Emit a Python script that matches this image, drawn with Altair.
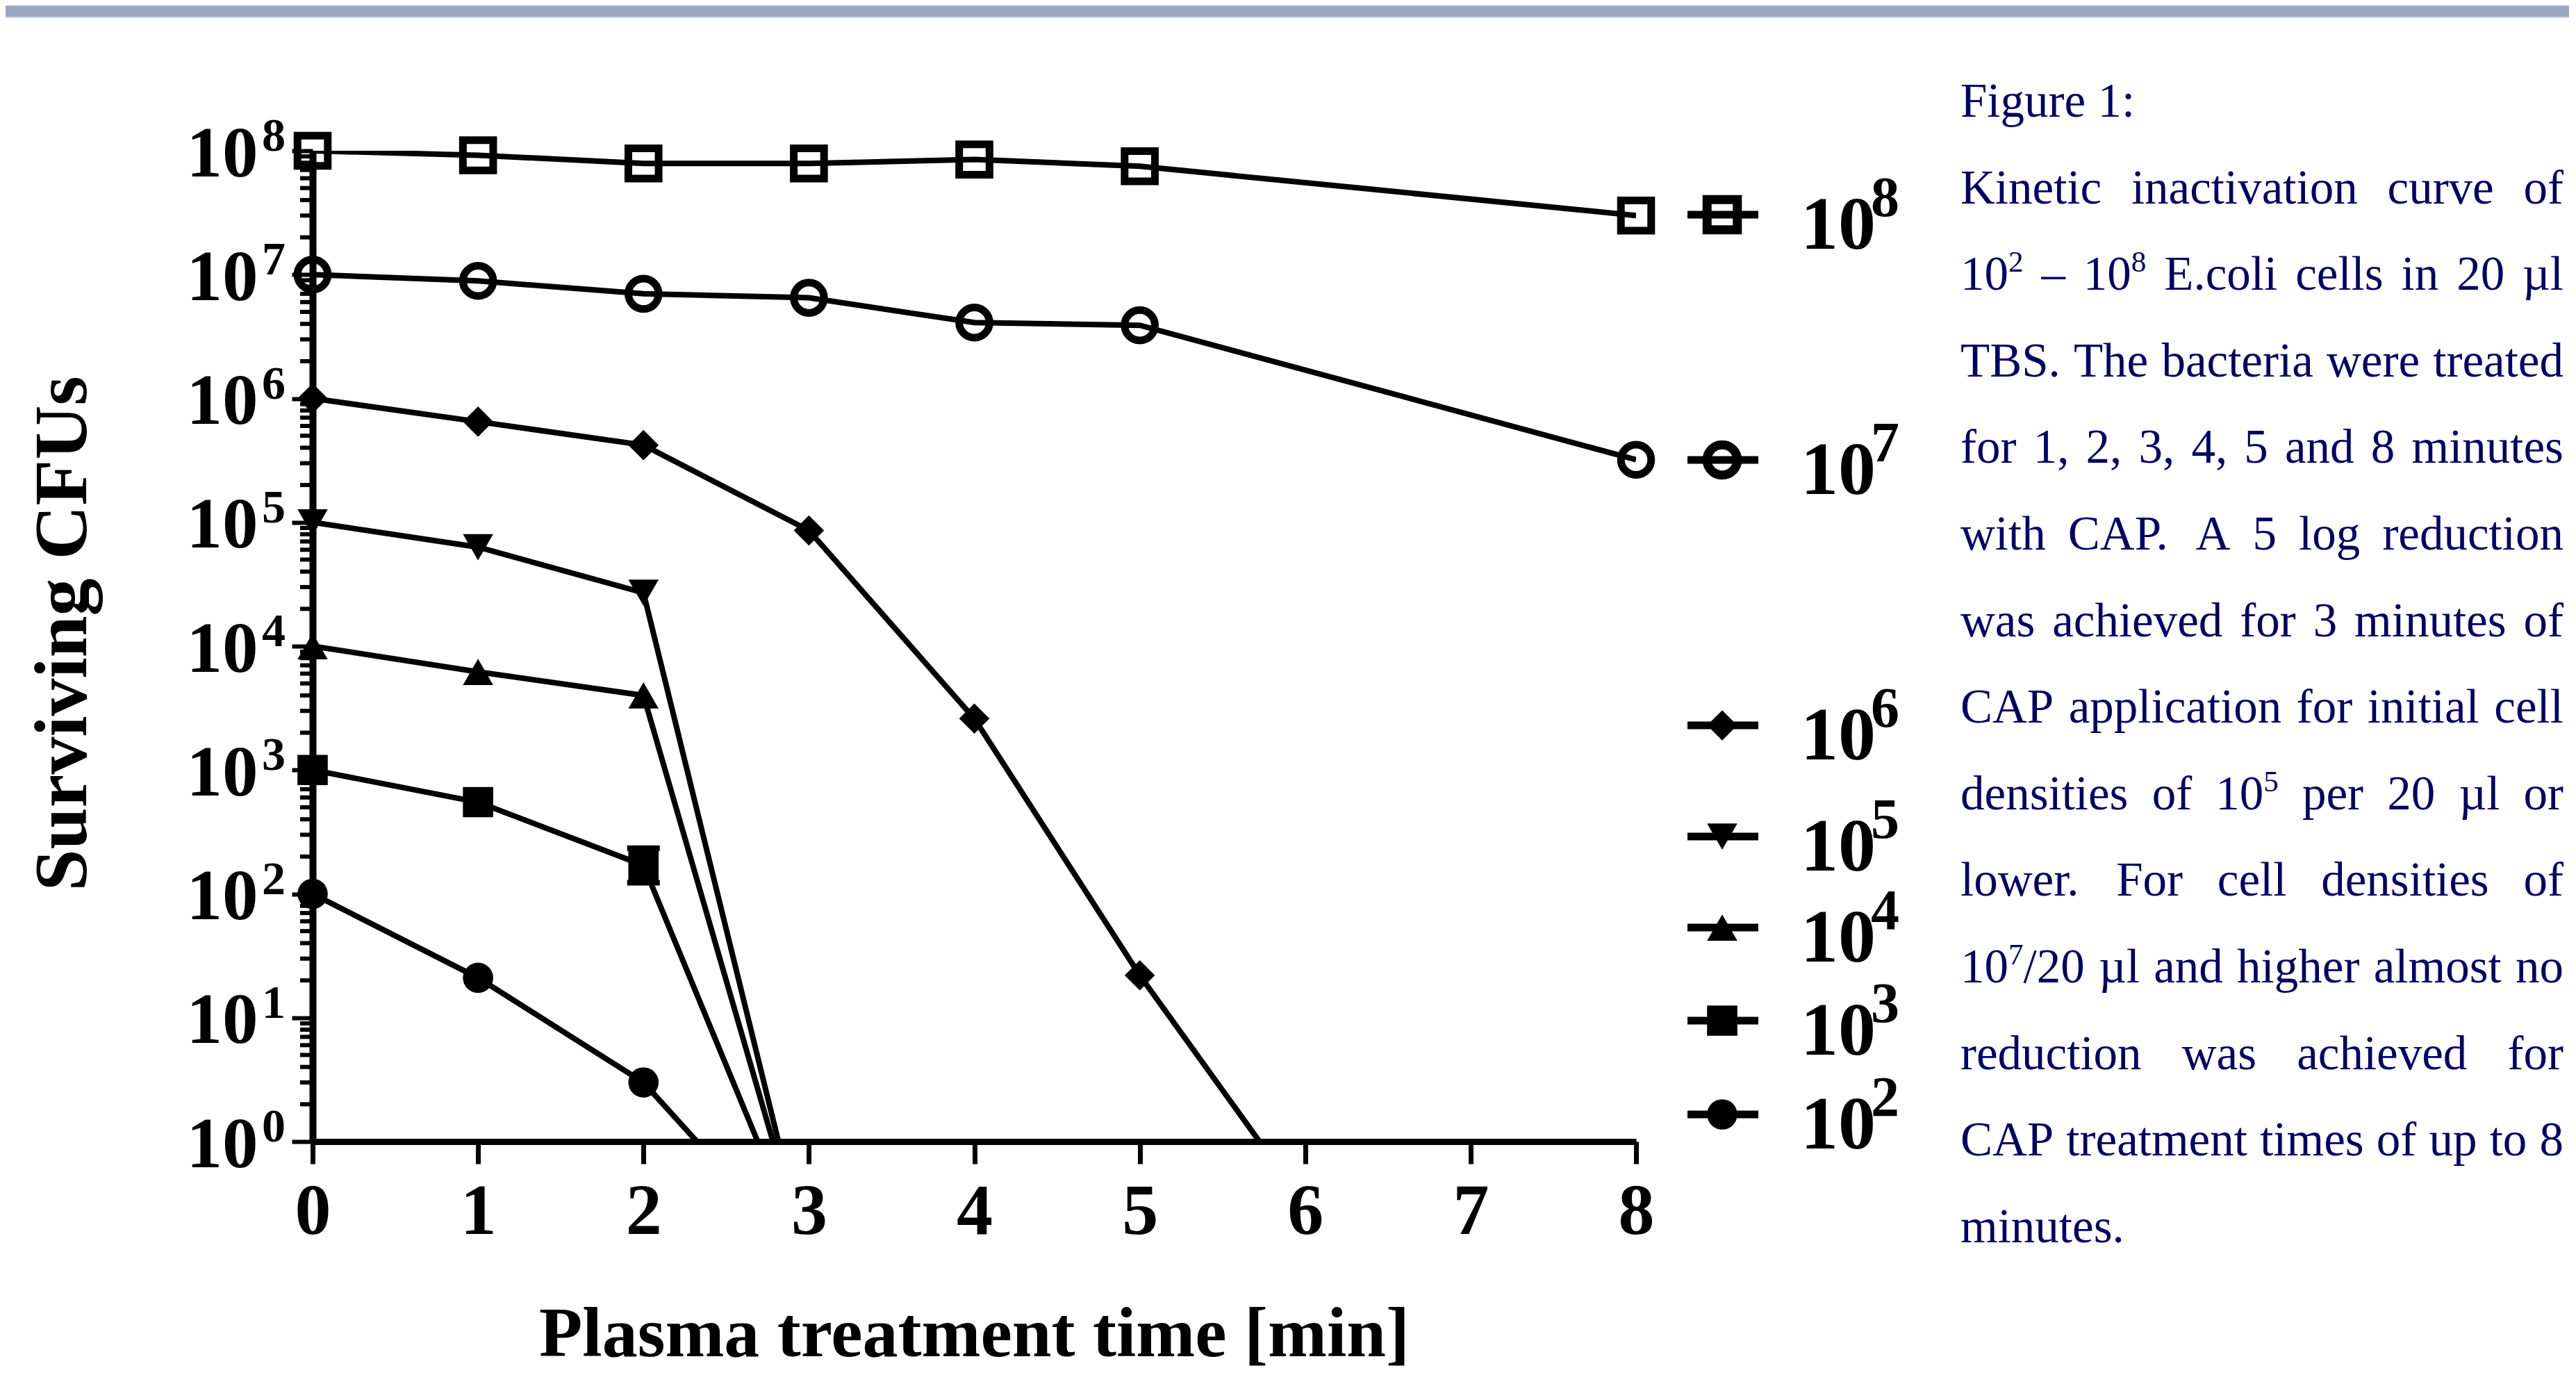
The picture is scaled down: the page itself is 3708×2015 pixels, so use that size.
import altair as alt
import pandas as pd

# ---------------- data ----------------
times = [0, 1, 2, 3, 4, 5, 8]
series_names = ["1e8", "1e7", "1e6", "1e5", "1e4", "1e3", "1e2"]
series_exp = ["8", "7", "6", "5", "4", "3", "2"]

# surviving CFUs per series (values below 10^0 are "zero" counts that Prism
# draws below the axis; the lines are clipped at the axis)
cfu_1e8 = [1.0e8, 9.2e7, 7.9e7, 7.9e7, 8.5e7, 7.5e7, 3.0e7]
cfu_1e7 = [1.0e7, 8.9e6, 7.0e6, 6.5e6, 4.1e6, 3.9e6, 3.2e5]
cfu_1e6 = [1.0e6, 6.5e5, 4.2e5, 8.6e4, 2.6e3, 22.0, 6e-5]
cfu_1e5 = [1.0e5, 6.3e4, 2.7e4, 0.1]
cfu_1e4 = [1.0e4, 6.2e3, 4.0e3, 0.1]
cfu_1e3 = [1.0e3, 5.5e2, 1.7e2, 0.1]
cfu_1e2 = [1.0e2, 21.0, 3.0, 0.1]
all_cfu = [cfu_1e8, cfu_1e7, cfu_1e6, cfu_1e5, cfu_1e4, cfu_1e3, cfu_1e2]

# the one visible error bar (10^3 series at 2 min)
err_series = ["1e3"]
err_t = [2]
err_lo = [123.0]
err_hi = [234.0]

decades = [10 ** k for k in range(9)]
decade_exp = [str(k) for k in range(9)]
minor_vals = [m * 10 ** k for k in range(8) for m in range(2, 10)]

x_ticks = list(range(9))

caption_lines = [
    "Figure 1:",
    "Kinetic inactivation curve of",
    "10^2 \u2013 10^8 E.coli cells in 20 \u00b5l",
    "TBS. The bacteria were treated",
    "for 1, 2, 3, 4, 5 and 8 minutes",
    "with CAP. A 5 log reduction",
    "was achieved for 3 minutes of",
    "CAP application for initial cell",
    "densities of 10^5 per 20 \u00b5l or",
    "lower. For cell densities of",
    "10^7/20 \u00b5l and higher almost no",
    "reduction was achieved for",
    "CAP treatment times of up to 8",
    "minutes.",
]

# ---------------- layout (pixels, relative to plot area) ----------------
PW, PH = 1905, 1426
FONT = "Liberation Serif"
NAVY = "#000066"

legend_y = [92, 445, 827, 987, 1118, 1252, 1387]
legend_line_x = (1979, 2081)
legend_sym_x = 2029
legend_txt_x = 2142
legend_exp_x = 2243

cap_left, cap_right = 2372, 3240
cap_top_baseline, cap_step = -49, 124.6
cap_fs, cap_sup_fs, cap_sup_raise = 69, 43, 26

# Times / Liberation Serif advance widths (1/1000 em)
W = {' ': 250, 'a': 444, 'b': 500, 'c': 444, 'd': 500, 'e': 444, 'f': 333, 'g': 500,
     'h': 500, 'i': 278, 'j': 278, 'k': 500, 'l': 278, 'm': 778, 'n': 500, 'o': 500,
     'p': 500, 'q': 500, 'r': 333, 's': 389, 't': 278, 'u': 500, 'v': 500, 'w': 722,
     'x': 500, 'y': 500, 'z': 444, 'A': 722, 'B': 667, 'C': 667, 'D': 722, 'E': 611,
     'F': 556, 'G': 722, 'H': 722, 'I': 333, 'K': 722, 'L': 611, 'M': 889, 'N': 722,
     'O': 722, 'P': 556, 'R': 667, 'S': 556, 'T': 611, 'U': 722, 'W': 944,
     '.': 250, ',': 250, ':': 278, '/': 278, '\u2013': 500, '\u00b5': 576}
for d in "0123456789":
    W[d] = 500


def segs(word):
    out, buf, i = [], "", 0
    while i < len(word):
        if word[i] == "^":
            if buf:
                out.append((buf, False))
                buf = ""
            out.append((word[i + 1], True))
            i += 2
        else:
            buf += word[i]
            i += 1
    if buf:
        out.append((buf, False))
    return out


def seg_w(text, sup):
    return sum(W.get(c, 500) for c in text) * (cap_sup_fs if sup else cap_fs) / 1000.0


cap_rows = []
for li, line in enumerate(caption_lines):
    words = [segs(w) for w in line.split(" ")]
    widths = [sum(seg_w(t, s) for t, s in w) for w in words]
    justify = 0 < li < len(caption_lines) - 1 and len(words) > 1
    if justify:
        gap = (cap_right - cap_left - sum(widths)) / (len(words) - 1)
    else:
        gap = W[' '] * cap_fs / 1000.0
    x = cap_left
    base = cap_top_baseline + li * cap_step
    for w, ww in zip(words, widths):
        xx = x
        for t, s in w:
            cap_rows.append({"text": t, "x": xx,
                             "y": base - (cap_sup_raise if s else 0),
                             "fs": cap_sup_fs if s else cap_fs})
            xx += seg_w(t, s)
        x += ww + gap
cap_df = pd.DataFrame(cap_rows)

# ---------------- tables ----------------
rows = []
for name, vals in zip(series_names, all_cfu):
    for t, v in zip(times, vals):
        rows.append({"series": name, "t": t, "cfu": v})
df = pd.DataFrame(rows)

err_df = pd.DataFrame({"series": err_series, "t": err_t, "lo": err_lo, "hi": err_hi})
dec_df = pd.DataFrame({"val": decades, "txt": decade_exp})
minor_df = pd.DataFrame({"v": minor_vals})

leg_df = pd.DataFrame({"series": series_names, "ly": legend_y,
                       "x1": legend_line_x[0], "x2": legend_line_x[1],
                       "sx": legend_sym_x})
leg_txt_rows = []
for e, ly in zip(series_exp, legend_y):
    leg_txt_rows.append({"text": "10", "x": legend_txt_x, "y": ly + 49, "fs": 108})
    leg_txt_rows.append({"text": e, "x": legend_exp_x, "y": ly + 2, "fs": 82})
leg_txt_df = pd.DataFrame(leg_txt_rows)

one = pd.DataFrame({"a": [0]})

# ---------------- scales ----------------
xs = alt.Scale(domain=[0, 8], nice=False, zero=False)
ys = alt.Scale(type="log", domain=[1, 1e8], nice=False)
shape_scale = alt.Scale(domain=series_names,
                        range=["square", "circle", "diamond", "triangle-down",
                               "triangle-up", "square", "circle"])
size_scale = alt.Scale(domain=series_names,
                       range=[1900, 1900, 3000, 2300, 2300, 2100, 1900])

x_axis = alt.Axis(values=x_ticks, tickSize=32, tickWidth=7, domainWidth=9,
                  domainColor="black", tickColor="black", labelColor="black",
                  labelFont=FONT, labelFontSize=104, labelFontWeight="bold",
                  labelPadding=18, labelFlush=False, labelOverlap=False,
                  grid=False, title=None, format="d")
y_axis = alt.Axis(values=decades, labelExpr="'10'", tickSize=30, tickWidth=6,
                  domainWidth=10, domainColor="black", tickColor="black",
                  labelColor="black", labelFont=FONT, labelFontSize=103,
                  labelFontWeight="bold", labelPadding=49, labelBaseline="alphabetic",
                  labelOffset=36, labelAlign="right", labelOverlap=False,
                  labelFlush=False, grid=False, title=None)

X = alt.X("t:Q", scale=xs, axis=x_axis)
Y = alt.Y("cfu:Q", scale=ys, axis=y_axis)

# ---------------- layers ----------------
band = alt.Chart(one).mark_rect(color="#99A8C2").encode(
    x=alt.value(-442), x2=alt.value(3248), y=alt.value(-209), y2=alt.value(-193))
band2 = alt.Chart(one).mark_rect(color="#CDD5E6").encode(
    x=alt.value(-442), x2=alt.value(3248), y=alt.value(-193), y2=alt.value(-191))

minor = alt.Chart(minor_df).mark_rule(color="black", strokeWidth=6).encode(
    y=alt.Y("v:Q", scale=ys), x=alt.value(-18), x2=alt.value(0))

lines = alt.Chart(df).mark_line(color="black", strokeWidth=8, clip=True).encode(
    x=X, y=Y, detail="series:N", order="t:Q")

err_rule = alt.Chart(err_df).mark_rule(color="black", strokeWidth=9, opacity=1).encode(
    x=alt.X("t:Q", scale=xs), y=alt.Y("lo:Q", scale=ys), y2="hi:Q")
err_lo_cap = alt.Chart(err_df).mark_tick(color="black", orient="horizontal", opacity=1,
                                         size=47, thickness=8).encode(
    x=alt.X("t:Q", scale=xs), y=alt.Y("lo:Q", scale=ys))
err_hi_cap = alt.Chart(err_df).mark_tick(color="black", orient="horizontal", opacity=1,
                                         size=47, thickness=8).encode(
    x=alt.X("t:Q", scale=xs), y=alt.Y("hi:Q", scale=ys))

open_set = ["1e8", "1e7"]
pts_open = alt.Chart(df).transform_filter(
    alt.FieldOneOfPredicate(field="series", oneOf=open_set)
).mark_point(filled=False, strokeWidth=11, color="black", opacity=1).encode(
    x=X, y=Y,
    shape=alt.Shape("series:N", scale=shape_scale, legend=None),
    size=alt.Size("series:N", scale=size_scale, legend=None))
pts_fill = alt.Chart(df).transform_filter(
    "datum.series != '1e8' && datum.series != '1e7' && datum.cfu >= 1"
).mark_point(filled=True, color="black", opacity=1).encode(
    x=X, y=Y,
    shape=alt.Shape("series:N", scale=shape_scale, legend=None),
    size=alt.Size("series:N", scale=size_scale, legend=None))

exps = alt.Chart(dec_df).mark_text(align="right", baseline="alphabetic", font=FONT,
                                   fontSize=68, fontWeight="bold", color="black").encode(
    y=alt.Y("val:Q", scale=ys), x=alt.value(-39), text="txt:N")

PX = lambda f: alt.X(f, scale=None, axis=None)
PY = lambda f: alt.Y(f, scale=None, axis=None)

leg_lines = alt.Chart(leg_df).mark_rule(color="black", strokeWidth=11).encode(
    x=PX("x1:Q"), x2="x2:Q", y=PY("ly:Q"))
leg_open = alt.Chart(leg_df).transform_filter(
    alt.FieldOneOfPredicate(field="series", oneOf=open_set)
).mark_point(filled=False, strokeWidth=13, color="black", opacity=1).encode(
    x=PX("sx:Q"), y=PY("ly:Q"),
    shape=alt.Shape("series:N", scale=shape_scale, legend=None),
    size=alt.Size("series:N", scale=size_scale, legend=None))
leg_fill = alt.Chart(leg_df).transform_filter(
    "datum.series != '1e8' && datum.series != '1e7'"
).mark_point(filled=True, color="black", opacity=1).encode(
    x=PX("sx:Q"), y=PY("ly:Q"),
    shape=alt.Shape("series:N", scale=shape_scale, legend=None),
    size=alt.Size("series:N", scale=size_scale, legend=None))
leg_txt = alt.Chart(leg_txt_df).mark_text(align="left", baseline="alphabetic", font=FONT,
                                          fontWeight="bold", color="black").encode(
    x=PX("x:Q"), y=PY("y:Q"), size=alt.Size("fs:Q", scale=None, legend=None),
    text="text:N")

caption = alt.Chart(cap_df).mark_text(align="left", baseline="alphabetic", font=FONT,
                                      color=NAVY).encode(
    x=PX("x:Q"), y=PY("y:Q"), size=alt.Size("fs:Q", scale=None, legend=None),
    text="text:N")

x_title = alt.Chart(one).mark_text(text="Plasma treatment time [min]", font=FONT,
                                   fontSize=102, fontWeight="bold", color="black",
                                   align="center", baseline="alphabetic").encode(
    x=alt.value(PW / 2), y=alt.value(1735))
y_title = alt.Chart(one).mark_text(text="Surviving CFUs", font=FONT, fontSize=108,
                                   fontWeight="bold", color="black", angle=270,
                                   align="center", baseline="alphabetic").encode(
    x=alt.value(-326), y=alt.value(695))

chart = alt.layer(
    band, band2, minor, lines, err_rule, err_lo_cap, err_hi_cap, pts_open, pts_fill,
    exps, leg_lines, leg_open, leg_fill, leg_txt, caption, x_title, y_title
).properties(
    width=PW, height=PH,
    padding={"left": 442, "top": 209, "right": 1343, "bottom": 360},
    autosize=alt.AutoSizeParams(type="none"),
    background="white",
).configure_view(stroke=None)

chart.save("out.html", embed_options={"renderer": "svg", "actions": False})
